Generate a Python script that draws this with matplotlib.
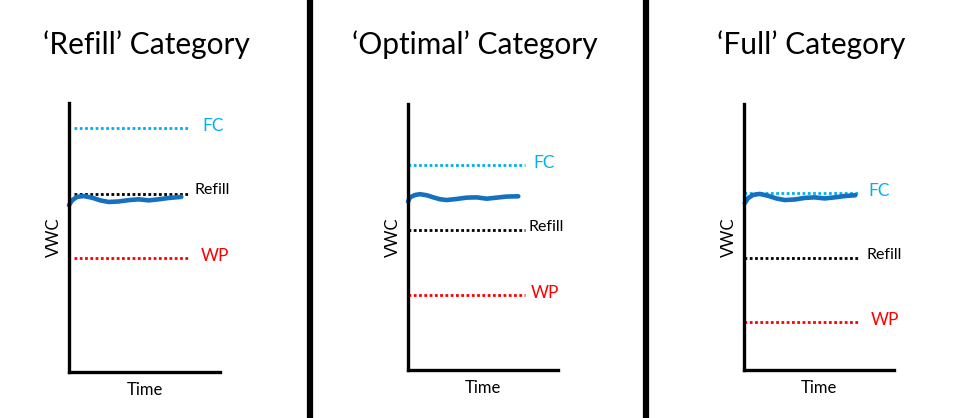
import matplotlib
matplotlib.use("Agg")
import matplotlib.pyplot as plt
from matplotlib.lines import Line2D

plt.rcParams['font.family'] = ['Lato', 'DejaVu Sans']

# --- data (VWC in arbitrary units 0-100, time 0-100) ---
titles = ["\u2018Refill\u2019 Category", "\u2018Optimal\u2019 Category", "\u2018Full\u2019 Category"]
fc_levels = [90.7, 77.1, 66.5]
refill_levels = [66.3, 52.6, 42.1]
wp_levels = [42.4, 28.2, 18.0]
line_start = [3, 0, 0]
line_end = [80, 78, 77]

trace1_t = [0, 2.0, 5.3, 9.7, 15.2, 20.7, 26.3, 32.9, 39.6, 46.2, 52.8, 59.4, 66.0, 74.4]
trace1_v = [62.0, 63.8, 65.1, 65.4, 64.8, 63.8, 63.2, 63.4, 63.9, 64.2, 63.8, 64.2, 64.7, 65.1]
trace2_t = [0, 1.3, 4.7, 8.0, 12.5, 16.9, 21.3, 25.8, 32.5, 39.1, 45.8, 52.5, 59.1, 65.8, 73.5]
trace2_v = [63.3, 64.9, 65.8, 66.1, 65.7, 64.9, 64.2, 63.9, 64.3, 64.8, 64.9, 64.4, 64.8, 65.2, 65.3]
trace3_t = [0.5, 2.7, 6.0, 10.5, 16.0, 21.5, 27.1, 33.8, 40.5, 47.1, 53.8, 60.5, 67.1, 74.2]
trace3_v = [62.7, 64.6, 65.8, 66.2, 65.5, 64.5, 63.9, 64.1, 64.7, 64.9, 64.5, 64.9, 65.4, 65.7]
traces = [(trace1_t, trace1_v), (trace2_t, trace2_v), (trace3_t, trace3_v)]

# --- layout (pixels) ---
W, H = 976, 418
axes_px = [(69, 103, 151, 269), (408, 104, 150, 266), (744, 104, 150, 266)]  # left, top, w, h
title_x = [146, 475, 811]
label_x = [  # FC, Refill, WP text positions in time units
    (88.5, 83, 87.5),
    (83.3, 80, 81.8),
    (82.7, 82, 84.7),
]
separators = [310, 646]

fc_color = "#00B0F0"
wp_color = "#FF0000"
curve_color = "#1670C0"
dots = (0, (1, 0.9))

fig = plt.figure(figsize=(W / 100, H / 100), dpi=100)

for x in separators:
    fig.add_artist(Line2D([x / W, x / W], [0, 1], color="black", lw=4.5))

for i in range(3):
    left, top, w, h = axes_px[i]
    ax = fig.add_axes([left / W, 1 - (top + h) / H, w / W, h / H])
    ax.set_xlim(0, 100)
    ax.set_ylim(0, 100)
    for s in ["top", "right"]:
        ax.spines[s].set_visible(False)
    for s in ["left", "bottom"]:
        ax.spines[s].set_linewidth(2.4)
        ax.spines[s].set_color("black")
    ax.set_xticks([])
    ax.set_yticks([])
    ax.patch.set_visible(False)

    xs = [line_start[i], line_end[i]]
    ax.plot(xs, [fc_levels[i]] * 2, color=fc_color, lw=2, linestyle=dots, clip_on=False)
    ax.plot(xs, [refill_levels[i]] * 2, color="black", lw=2, linestyle=dots, clip_on=False)
    ax.plot(xs, [wp_levels[i]] * 2, color=wp_color, lw=2, linestyle=dots, clip_on=False)

    t, v = traces[i]
    ax.plot(t, v, color=curve_color, lw=3.3, solid_capstyle="round",
            solid_joinstyle="round", clip_on=False)

    fx, rx, wx = label_x[i]
    ax.text(fx, fc_levels[i] + 0.8, "FC", color=fc_color, fontsize=12.5, va="center", ha="left")
    ax.text(rx, refill_levels[i] + 1.2, "Refill", color="black", fontsize=11.5, va="center", ha="left")
    ax.text(wx, wp_levels[i] + 0.8, "WP", color=wp_color, fontsize=12.5, va="center", ha="left")

    ax.set_xlabel("Time", fontsize=12, labelpad=7)
    ax.set_ylabel("VWC", fontsize=12, labelpad=5)

    fig.text(title_x[i] / W, 1 - 45 / H, titles[i], fontsize=21.5, ha="center", va="center")

fig.savefig("out.png", dpi=100)
